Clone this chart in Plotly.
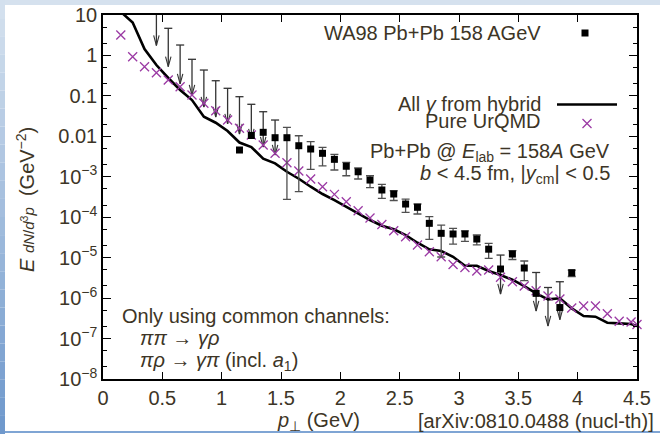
import plotly.graph_objects as go

# ---------------- data ----------------
urqmd_pt = [0.11, 0.15, 0.25, 0.35, 0.45, 0.55, 0.65, 0.75, 0.85, 0.95, 1.05, 1.15, 1.25,
            1.35, 1.45, 1.55, 1.65, 1.75, 1.85, 1.95, 2.05, 2.15, 2.25, 2.35, 2.45, 2.55,
            2.65, 2.75, 2.85, 2.95, 3.05, 3.15, 3.25, 3.35, 3.45, 3.55, 3.65, 3.75, 3.85,
            3.95, 4.05, 4.15, 4.25, 4.35, 4.45, 4.5]
urqmd_val = [10.6, 3.2, 0.93, 0.527, 0.374, 0.247, 0.169, 0.105, 0.0656, 0.043, 0.0254,
             0.0158, 0.0108, 0.0061, 0.0038, 0.00223, 0.00139, 8.8e-4, 5.68e-4, 3.68e-4,
             2.42e-4, 1.45e-4, 9.55e-5, 6.6e-5, 4.64e-5, 3.3e-5, 2.06e-5, 1.4e-5, 1.05e-5,
             6.76e-6, 5.7e-6, 4.68e-6, 4.94e-6, 3.27e-6, 2.54e-6, 1.99e-6, 1.52e-6, 1.13e-6,
             9.5e-7, 5.69e-7, 6.37e-7, 6.37e-7, 4.11e-7, 2.67e-7, 2.56e-7, 2.22e-7]

hybrid_pt = [0.15, 0.25, 0.35, 0.45, 0.55, 0.65, 0.75, 0.85, 0.95, 1.05, 1.15, 1.25, 1.35,
             1.45, 1.55, 1.65, 1.75, 1.85, 1.95, 2.05, 2.15, 2.25, 2.35, 2.45, 2.55, 2.65,
             2.75, 2.85, 2.95, 3.05, 3.15, 3.25, 3.35, 3.45, 3.55, 3.65, 3.75, 3.85, 3.95,
             4.05, 4.15, 4.25, 4.35, 4.45, 4.5]
hybrid_val = [12.0, 6.5, 1.44, 0.58, 0.277, 0.14, 0.079, 0.0306, 0.0217, 0.01355, 0.00703,
              0.00544, 0.0028, 0.00215, 0.00133, 8.95e-4, 5.68e-4, 3.75e-4, 2.66e-4, 1.82e-4,
              1.29e-4, 8.53e-5, 6.17e-5, 5.02e-5, 3.63e-5, 2.34e-5, 1.61e-5, 1.46e-5, 1.05e-5,
              6.32e-6, 6.32e-6, 4.68e-6, 3.72e-6, 2.85e-6, 1.99e-6, 1.31e-6, 9.33e-7, 9.9e-7,
              5.58e-7, 3.6e-7, 3.47e-7, 2.46e-7, 2.38e-7, 2.29e-7, 2.04e-7]

# WA98 points with two-sided error bars
wa98_pt = [1.55, 1.65, 1.75, 1.85, 1.95, 2.05, 2.15, 2.25, 2.35, 2.45, 2.55, 2.65, 2.75,
           2.85, 2.95, 3.05, 3.15, 3.25, 3.45, 3.55, 3.95]
wa98_val = [9.25e-3, 5.86e-3, 4.86e-3, 3.8e-3, 2.7e-3, 1.82e-3, 1.33e-3, 8.3e-4, 4.71e-4,
            3.75e-4, 2.12e-4, 1.76e-4, 7.06e-5, 4.0e-5, 3.85e-5, 3.85e-5, 2.89e-5, 1.62e-5,
            1.23e-5, 5.55e-6, 4.25e-6]
wa98_hi = [0.0167, 0.01035, 7.36e-3, 5.35e-3, 3.59e-3, 2.28e-3, 1.65e-3, 1.06e-3, 6.51e-4,
           4.52e-4, 2.79e-4, 2.12e-4, 1.03e-4, 6.41e-5, 5.32e-5, 4.61e-5, 3.63e-5, 2.26e-5,
           1.5e-5, 8.26e-6, 4.94e-6]
wa98_lo = [2.77e-4, 4.27e-4, 1.53e-3, 1.85e-3, 1.47e-3, 1.06e-3, 8.8e-4, 5.37e-4, 2.93e-4,
           2.59e-4, 1.32e-4, 1.2e-4, 2.84e-5, 1.04e-5, 2.17e-5, 2.54e-5, 2.06e-5, 9.6e-6,
           9.0e-6, 2.72e-6, 3.42e-6]

# WA98 points whose lower uncertainty reaches zero (drawn as arrows)
wa98u_pt = [1.15, 1.25, 1.35, 1.45, 3.35, 3.65, 3.85]
wa98u_val = [4.59e-3, 0.0105, 0.01257, 9.25e-3, 5.24e-6, 1.31e-6, 5.85e-7]

# upper limits / arrows: cap value and arrow tip value
ul_pt = [0.45, 0.55, 0.65, 0.75, 0.85, 0.95, 1.05, 1.15, 1.25, 1.35, 1.45,
         3.35, 3.65, 3.75, 3.85]
ul_top = [20.0, 4.69, 1.81, 0.803, 0.436, 0.237, 0.154, 0.0955, 0.062, 0.0406, 0.0253,
          1.16e-5, 4.3e-6, 1.83e-6, 2.54e-6]
ul_tip = [1.76, 0.527, 0.197, 0.105, 0.053, 0.030, 0.0202, 0.0114, 0.0086, 5.44e-3, 3.45e-3,
          1.26e-6, 4.8e-7, 2.04e-7, 2.92e-7]

x_ticks = [0, 0.5, 1, 1.5, 2, 2.5, 3, 3.5, 4, 4.5]
x_tick_text = ["0", "0.5", "1", "1.5", "2", "2.5", "3", "3.5", "4", "4.5"]
y_ticks = [10, 1, 0.1, 0.01, 1e-3, 1e-4, 1e-5, 1e-6, 1e-7, 1e-8]
y_tick_text = ["10", "1", "0.1", "0.01", "10<sup>−3</sup>", "10<sup>−4</sup>",
               "10<sup>−5</sup>", "10<sup>−6</sup>", "10<sup>−7</sup>", "10<sup>−8</sup>"]

# ---------------- style ----------------
FONT = "Liberation Sans"
TXT = "#3d3526"
PURPLE = "#9b3aa4"
ERR = "#505050"
W, H = 660, 434
ML, MR, MT, MB = 103, 23, 15, 55
CAP = 0.034      # half width of arrow caps (x units)
HEAD_W = 0.023   # arrow head half width (x units)
HEAD_H = 10 ** 0.25  # arrow head height factor (log units)

fig = go.Figure()

# arrows (upper limits): shafts + caps
sx, sy = [], []
for x, t, b in zip(ul_pt, ul_top, ul_tip):
    sx += [x, x, None, x - CAP, x + CAP, None]
    sy += [t, b, None, t, t, None]
fig.add_trace(go.Scatter(x=sx, y=sy, mode="lines", line=dict(color="#333333", width=1.3),
                         showlegend=False, hoverinfo="skip"))
hx, hy = [], []
for x, b in zip(ul_pt, ul_tip):
    hx += [x - HEAD_W, x, x + HEAD_W, None]
    hy += [b * HEAD_H, b, b * HEAD_H, None]
fig.add_trace(go.Scatter(x=hx, y=hy, mode="lines", line=dict(color="#333333", width=1.1),
                         showlegend=False, hoverinfo="skip"))

# hybrid line
fig.add_trace(go.Scatter(x=hybrid_pt, y=hybrid_val, mode="lines",
                         line=dict(color="black", width=2.6), name=" ",
                         legend="legend2"))
# UrQMD crosses
fig.add_trace(go.Scatter(x=urqmd_pt, y=urqmd_val, mode="markers", cliponaxis=False,
                         marker=dict(symbol="x-thin", size=9,
                                     line=dict(color=PURPLE, width=1.3)),
                         name=" ", legend="legend2"))

# WA98 squares
fig.add_trace(go.Scatter(
    x=wa98_pt, y=wa98_val, mode="markers",
    marker=dict(symbol="square", size=7, color="black"),
    error_y=dict(type="data", symmetric=False,
                 array=[h - v for h, v in zip(wa98_hi, wa98_val)],
                 arrayminus=[v - l for v, l in zip(wa98_val, wa98_lo)],
                 color=ERR, thickness=1.3, width=4),
    name=" ", legend="legend"))
fig.add_trace(go.Scatter(x=wa98u_pt, y=wa98u_val, mode="markers",
                         marker=dict(symbol="square", size=7, color="black"),
                         showlegend=False))

# background decoration (slide frame)
def px2x(p):
    return (p - ML) / (W - ML - MR)

def py2y(p):
    return (H - MB - p) / (H - MT - MB)

shapes = []
shapes.append(dict(type="rect", xref="paper", yref="paper", x0=px2x(0), x1=px2x(W),
                   y0=py2y(5), y1=py2y(0), fillcolor="#d5e1ee", line_width=0, layer="below"))
N = 24
c0 = (214, 226, 239)
c1 = (110, 152, 204)
for i in range(N):
    f = (i + 0.5) / N
    col = "rgb(%d,%d,%d)" % tuple(int(a + (b - a) * f) for a, b in zip(c0, c1))
    shapes.append(dict(type="rect", xref="paper", yref="paper", x0=px2x(0), x1=px2x(5),
                       y0=py2y(H * (i + 1) / N), y1=py2y(H * i / N),
                       fillcolor=col, line_width=0, layer="below"))
shapes.append(dict(type="rect", xref="paper", yref="paper", x0=px2x(5), x1=px2x(W),
                   y0=py2y(433), y1=py2y(431), fillcolor="#7fa5d4", line_width=0,
                   layer="below"))

ann = []
def A(text, x, y, xanchor="left", size=20, **kw):
    ann.append(dict(text=text, x=px2x(x), y=py2y(y), xref="paper", yref="paper",
                    xanchor=xanchor, yanchor="middle", showarrow=False,
                    font=dict(family=FONT, size=size, color=TXT), **kw))

A("WA98 Pb+Pb 158 AGeV", 543, 33, "right")
A("All <i>γ</i> from hybrid", 543, 104, "right")
A("Pure UrQMD", 543, 121, "right")
A("Pb+Pb @ <i>E</i><sub>lab</sub> = 158<i>A</i> GeV", 612, 152, "right")
A("<i>b</i> &lt; 4.5 fm, |<i>y</i><sub>cm</sub>| &lt; 0.5", 612, 174, "right")
A("Only using common channels:", 120, 316, "left")
A("<i>ππ</i> → <i>γρ</i>", 138, 338, "left")
A("<i>πρ</i> → <i>γπ</i> (incl. <i>a</i><sub>1</sub>)", 138, 361, "left")
A("<i>p</i><sub>⊥</sub> (GeV)", 318, 421, "center")
A("[arXiv:0810.0488 (nucl-th)]", 656, 421, "right")
A("<i>E</i> <span style='font-size:15px'><i>dN</i>/<i>d</i><sup>3</sup><i>p</i></span>  (GeV<sup>−2</sup>)",
  25, 200, "center", textangle=-90)

axis_common = dict(showline=True, linecolor="black", linewidth=1.5, mirror="allticks",
                   ticks="inside", tickcolor="black", tickwidth=1.2, showgrid=False,
                   zeroline=False, automargin=False,
                   tickfont=dict(family=FONT, size=20, color=TXT))

fig.update_layout(
    width=W, height=H, autosize=False,
    margin=dict(l=ML, r=MR, t=MT, b=MB, autoexpand=False),
    paper_bgcolor="white", plot_bgcolor="white",
    xaxis=dict(range=[0, 4.5], tickvals=x_ticks, ticktext=x_tick_text, ticklen=7,
               **axis_common),
    yaxis=dict(type="log", range=[-8, 1], tickvals=y_ticks, ticktext=y_tick_text, ticklen=8,
               minor=dict(ticks="inside", ticklen=4, tickcolor="black", tickwidth=1,
                          dtick="D2"),
               **axis_common),
    shapes=shapes, annotations=ann,
    legend=dict(x=px2x(565), y=py2y(33), xanchor="left", yanchor="middle",
                bgcolor="rgba(0,0,0,0)", font=dict(size=10)),
    legend2=dict(x=px2x(552), y=py2y(114), xanchor="left", yanchor="middle",
                 bgcolor="rgba(0,0,0,0)", font=dict(size=10), tracegroupgap=0,
                 itemwidth=60),
)

fig.write_html("out.html", config={"displayModeBar": False},
               post_script="document.body.style.margin='0px';document.body.style.overflow='hidden';")
